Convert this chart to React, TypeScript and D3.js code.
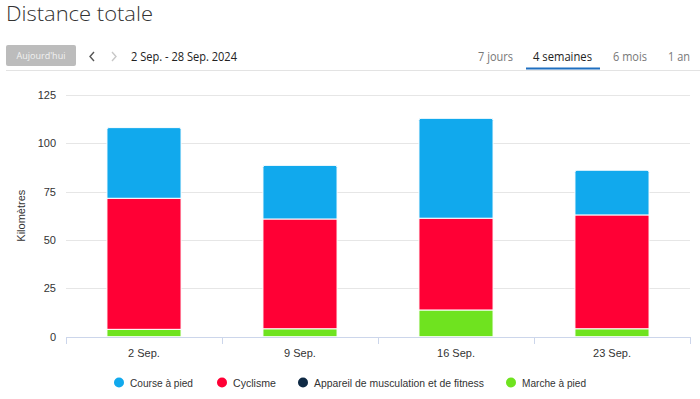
import { useMemo } from "react";
import * as d3 from "d3";

const weeks = ["2 Sep.", "9 Sep.", "16 Sep.", "23 Sep."];
const running = [36.5, 27.7, 51.6, 23.1];
const cycling = [67.7, 56.7, 47.4, 58.8];
const fitness = [0, 0, 0, 0];
const walking = [3.8, 4.1, 13.8, 4.1];
const yTicks = [0, 25, 50, 75, 100, 125];
const tabs = ["7 jours", "4 semaines", "6 mois", "1 an"];

const series = [
  { key: "walking", label: "Marche à pied", color: "#6fe31f", values: walking },
  { key: "fitness", label: "Appareil de musculation et de fitness", color: "#0f2a45", values: fitness },
  { key: "cycling", label: "Cyclisme", color: "#ff0035", values: cycling },
  { key: "running", label: "Course à pied", color: "#11a9ed", values: running },
];
const legendOrder = ["running", "cycling", "fitness", "walking"];

const chartFont = "'Liberation Sans', Arial, sans-serif";
const uiFont = "'Open Sans', 'Noto Sans', sans-serif";

function topRoundedRect(x: number, y: number, w: number, h: number, r: number) {
  const rr = Math.min(r, h / 2, w / 2);
  return `M${x},${y + h}V${y + rr}Q${x},${y} ${x + rr},${y}H${x + w - rr}Q${x + w},${y} ${x + w},${y + rr}V${y + h}Z`;
}

export default function App() {
  const width = 700;
  const height = 399;
  const plotLeft = 66;
  const plotRight = 690;

  const x = useMemo(
    () => d3.scaleBand<string>().domain(weeks).range([plotLeft, plotRight]).padding(0),
    []
  );
  const y = useMemo(() => d3.scaleLinear().domain([0, 125]).range([336.7, 94.7]), []);

  const stacked = useMemo(() => {
    const rows = weeks.map((w, i) => {
      const row: Record<string, number | string> = { week: w };
      series.forEach((s) => (row[s.key] = s.values[i]));
      return row;
    });
    return d3
      .stack<Record<string, number | string>>()
      .keys(series.map((s) => s.key))
      .value((d, key) => d[key] as number)(rows);
  }, []);

  const barW = x.bandwidth() * 0.475;

  // top non-empty layer of each week gets the rounded corners
  const topLayer = weeks.map((_, i) => {
    let top = -1;
    stacked.forEach((layer, li) => {
      if (layer[i][1] - layer[i][0] > 0) top = li;
    });
    return top;
  });

  const legendItems = legendOrder.map((k) => series.find((s) => s.key === k)!);
  const legendX = [119, 222, 303, 511];
  const legendW = [63, 43, 170, 64];

  const tabX = [478, 533, 613, 668];
  const tabW = [35, 59, 34, 22];

  return (
    <svg
      width={width}
      height={height}
      style={{ position: "absolute", left: 0, top: 0, background: "#fff" }}
    >
      {/* header */}
      <text
        x={6}
        y={21}
        fontFamily={uiFont}
        fontWeight={300}
        fontSize={20}
        fill="#333"
        textLength={147}
        lengthAdjust="spacingAndGlyphs"
      >
        Distance totale
      </text>

      <rect x={6} y={45} width={70} height={21} rx={2} fill="#bcbcbc" />
      <text x={41} y={59} textAnchor="middle" fontFamily={uiFont} fontSize={9} fill="#f2f2f2">
        Aujourd'hui
      </text>
      <path d="M94,52 L90,56.5 L94,61" fill="none" stroke="#555" strokeWidth={1.4} />
      <path d="M112,52 L116,56.5 L112,61" fill="none" stroke="#c8c8c8" strokeWidth={1.4} />
      <text
        x={131}
        y={61}
        fontFamily={uiFont}
        fontSize={12.5}
        fill="#222"
        textLength={106}
        lengthAdjust="spacingAndGlyphs"
      >
        2 Sep. - 28 Sep. 2024
      </text>

      {tabs.map((t, i) => (
        <text
          key={t}
          x={tabX[i]}
          y={61}
          fontFamily={uiFont}
          fontSize={12.5}
          fill={i === 1 ? "#222" : "#777"}
          textLength={tabW[i]}
          lengthAdjust="spacingAndGlyphs"
        >
          {t}
        </text>
      ))}
      <line x1={6} x2={700} y1={70.5} y2={70.5} stroke="#e3e3e3" />
      <rect x={526} y={67.5} width={74} height={2} fill="#1f6fc0" />

      {/* gridlines */}
      {yTicks.map((t) => (
        <g key={t}>
          {t > 0 && (
            <line
              x1={plotLeft}
              x2={plotRight}
              y1={Math.round(y(t)) + 0.5}
              y2={Math.round(y(t)) + 0.5}
              stroke="#e6e6e6"
            />
          )}
          <text
            x={56}
            y={y(t) + 4}
            textAnchor="end"
            fontFamily={chartFont}
            fontSize={11}
            fill="#333"
          >
            {t}
          </text>
        </g>
      ))}

      <text
        transform={`translate(25, ${y(62.5)}) rotate(-90)`}
        textAnchor="middle"
        fontFamily={chartFont}
        fontSize={11}
        fill="#333"
      >
        Kilomètres
      </text>

      {/* bars */}
      {stacked.map((layer, li) => (
        <g key={layer.key} fill={series[li].color}>
          {layer.map((d, i) => {
            const v = d[1] - d[0];
            if (v <= 0) return null;
            const bx = (x(weeks[i]) ?? 0) + (x.bandwidth() - barW) / 2;
            const y0 = y(d[0]);
            const y1 = y(d[1]);
            return (
              <path
                key={i}
                d={topRoundedRect(bx, y1, barW, y0 - y1, topLayer[i] === li ? 2 : 0)}
                stroke="#fff"
                strokeWidth={1}
              />
            );
          })}
        </g>
      ))}

      {/* x axis */}
      <line x1={plotLeft} x2={plotRight} y1={337.5} y2={337.5} stroke="#ccd6eb" />
      {[...weeks.map((w) => x(w) ?? 0), plotRight].map((tx, i) => (
        <line
          key={i}
          x1={Math.round(tx) + 0.5}
          x2={Math.round(tx) + 0.5}
          y1={337}
          y2={344}
          stroke="#ccd6eb"
        />
      ))}
      {weeks.map((w) => (
        <text
          key={w}
          x={(x(w) ?? 0) + x.bandwidth() / 2}
          y={357}
          textAnchor="middle"
          fontFamily={chartFont}
          fontSize={11}
          fill="#333"
        >
          {w}
        </text>
      ))}

      {/* legend */}
      {legendItems.map((s, i) => (
        <g key={s.key}>
          <circle cx={legendX[i]} cy={382.5} r={5} fill={s.color} />
          <text
            x={legendX[i] + 11}
            y={386.5}
            fontFamily={chartFont}
            fontSize={11.5}
            fill="#333"
            textLength={legendW[i]}
            lengthAdjust="spacingAndGlyphs"
          >
            {s.label}
          </text>
        </g>
      ))}
    </svg>
  );
}
